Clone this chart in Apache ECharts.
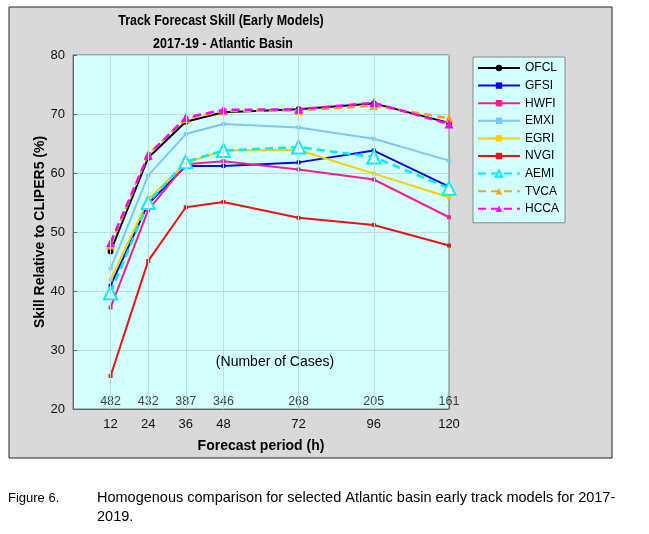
<!DOCTYPE html>
<html>
<head>
<meta charset="utf-8">
<script src="https://cdn.jsdelivr.net/npm/echarts@6/dist/echarts.min.js"></script>
<style>
  html, body { margin: 0; padding: 0; background: #fff; }
  #chart { width: 649px; height: 534px; }
</style>
</head>
<body>
<div id="chart"></div>
<script>
const hours = [12, 24, 36, 48, 72, 96, 120];
const cases = [482, 432, 387, 346, 268, 205, 161];

const ofcl = [46.7, 62.6, 68.7, 70.3, 70.8, 71.8, 68.5];
const gfsi = [40.9, 54.8, 61.2, 61.2, 61.8, 63.8, 57.7];
const hwfi = [37.2, 53.7, 61.5, 62.0, 60.6, 58.9, 52.5];
const emxi = [43.8, 59.6, 66.6, 68.3, 67.7, 65.8, 62.1];
const egri = [41.9, 55.5, 61.7, 63.8, 63.9, 59.9, 55.9];
const nvgi = [25.6, 45.1, 54.2, 55.1, 52.4, 51.2, 47.7];
const aemi = [39.7, 55.0, 61.9, 63.8, 64.4, 62.7, 57.4];
const tvca = [47.8, 63.2, 69.2, 70.5, 70.6, 71.4, 69.3];
const hcca = [48.2, 63.0, 69.4, 70.7, 70.8, 71.9, 68.3];

const FONT = '"Liberation Sans", Arial, sans-serif';
const PLOT_BG = '#d4ffff';
const GRID_LINE = '#b9dede';

const chart = echarts.init(document.getElementById('chart'));

const pts = (arr) => hours.map((h, i) => [h, arr[i]]);

function solid(name, arr, color, symbol, size) {
  return {
    name,
    type: 'line',
    data: pts(arr),
    z: 3,
    symbol,
    symbolSize: size,
    itemStyle: { color },
    lineStyle: { color, width: 2 },
    animation: false,
  };
}

function dashed(name, arr, color, symbol, size, extra) {
  return Object.assign({
    name,
    type: 'line',
    data: pts(arr),
    z: 4,
    symbol,
    symbolSize: size,
    itemStyle: { color },
    lineStyle: { color, width: 2.5, type: [8, 5] },
    animation: false,
  }, extra || {});
}

// title lines are tall but narrow in the original, so squeeze them a bit
function titleLine(text, x, y) {
  return {
    type: 'text', z: 10, x, y, scaleX: 0.83,
    style: { x: 0, y: 0, text, textAlign: 'center', textVerticalAlign: 'middle',
             font: 'bold 15px ' + FONT, fill: '#000' },
  };
}

const option = {
  backgroundColor: '#ffffff',
  textStyle: { fontFamily: FONT },
  animation: false,
  graphic: [
    {
      type: 'rect', z: -10, silent: true,
      shape: { x: 9, y: 7, width: 603, height: 451 },
      style: { fill: '#d9d9d9', stroke: '#222', lineWidth: 1 },
    },
    titleLine('Track Forecast Skill (Early Models)', 221, 21),
    titleLine('2017-19 - Atlantic Basin', 223, 44),
    {
      type: 'text', z: 10,
      style: { x: 275, y: 362, text: '(Number of Cases)', textAlign: 'center', textVerticalAlign: 'middle',
               font: '14px ' + FONT, fill: '#000' },
    },
    {
      type: 'text', z: 10,
      style: { x: 8, y: 498, text: 'Figure 6.', textVerticalAlign: 'middle', font: '13px ' + FONT, fill: '#000' },
    },
    {
      type: 'text', z: 10,
      style: { x: 97, y: 498, text: 'Homogenous comparison for selected Atlantic basin early track models for 2017-',
               textVerticalAlign: 'middle', font: '14.5px ' + FONT, fill: '#000' },
    },
    {
      type: 'text', z: 10,
      style: { x: 97, y: 517, text: '2019.', textVerticalAlign: 'middle', font: '14.5px ' + FONT, fill: '#000' },
    },
  ],
  grid: {
    left: 73, top: 55, width: 376, height: 354,
    show: true, backgroundColor: PLOT_BG, borderColor: '#777', borderWidth: 1,
  },
  legend: {
    orient: 'vertical',
    left: 473, top: 57,
    width: 92,
    padding: [5, 6, 8, 4],
    backgroundColor: PLOT_BG,
    borderColor: '#888', borderWidth: 1, borderRadius: 0,
    itemWidth: 42, itemHeight: 8, itemGap: 5.6,
    textStyle: { fontSize: 12, color: '#000', fontFamily: FONT },
    data: ['OFCL', 'GFSI', 'HWFI', 'EMXI', 'EGRI', 'NVGI', 'AEMI', 'TVCA', 'HCCA'],
  },
  xAxis: {
    type: 'value', min: 0, max: 120,
    name: 'Forecast period (h)', nameLocation: 'middle', nameGap: 30,
    nameTextStyle: { fontWeight: 'bold', fontSize: 14, color: '#000' },
    axisLine: { lineStyle: { color: '#666' } },
    axisTick: { inside: true, length: 4, customValues: hours, lineStyle: { color: '#666' } },
    axisLabel: { customValues: hours, fontSize: 13, color: '#111', margin: 9 },
    splitLine: { show: false },
  },
  yAxis: {
    type: 'value', min: 20, max: 80, interval: 10,
    name: 'Skill Relative to CLIPER5 (%)', nameLocation: 'middle', nameGap: 26,
    nameMoveOverlap: false,
    nameTextStyle: { fontWeight: 'bold', fontSize: 14, color: '#000' },
    axisLine: { show: true, lineStyle: { color: '#666' } },
    axisTick: { show: true, inside: true, length: 4, lineStyle: { color: '#666' } },
    axisLabel: { fontSize: 13, color: '#111', margin: 8 },
    splitLine: { show: true, lineStyle: { color: GRID_LINE, width: 1 } },
  },
  series: [
    {
      name: 'cases',
      type: 'scatter',
      z: 1,
      data: hours.map((h) => [h, 20]),
      symbolSize: 0,
      silent: true,
      label: {
        show: true, position: 'top', distance: 1,
        fontSize: 12.5, color: '#111',
        formatter: (p) => String(cases[p.dataIndex]),
      },
      markLine: {
        silent: true, symbol: 'none', label: { show: false },
        lineStyle: { color: GRID_LINE, width: 1, type: 'solid' },
        data: hours.slice(0, -1).map((h) => ({ xAxis: h })),
      },
      animation: false,
    },
    solid('OFCL', ofcl, '#000000', 'circle', 6),
    solid('GFSI', gfsi, '#0a0adf', 'rect', 4),
    solid('HWFI', hwfi, '#f0208c', 'rect', 4),
    solid('EMXI', emxi, '#7cc8f2', 'rect', 4),
    solid('EGRI', egri, '#f7cf00', 'rect', 4),
    solid('NVGI', nvgi, '#ee1111', 'rect', 4),
    dashed('AEMI', aemi, '#00f0f0', 'emptyTriangle', 13, { itemStyle: { color: '#00f0f0', borderWidth: 2 } }),
    dashed('TVCA', tvca, '#f7a21b', 'triangle', 9),
    dashed('HCCA', hcca, '#ff00ff', 'triangle', 9),
  ],
};

chart.setOption(option);
</script>
</body>
</html>
